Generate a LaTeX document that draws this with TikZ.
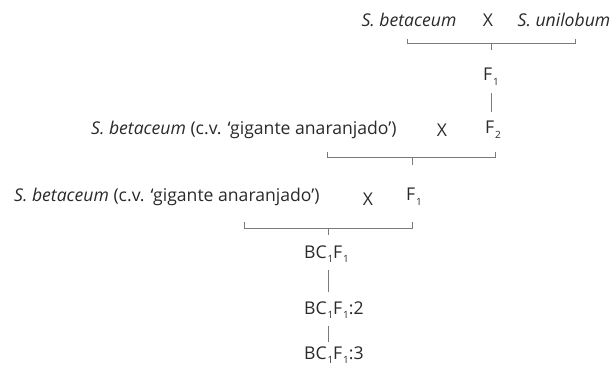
\documentclass[tikz,border=0pt]{standalone}
\usepackage{fontspec}
\setmainfont{Open Sans}
\usepackage{xcolor}
\usetikzlibrary{positioning, calc}
\definecolor{cText}{HTML}{2A2A2A}
\definecolor{cLine}{HTML}{7A7A7A}
\tikzset{
  cross/.style ={font=\fontsize{17.6}{20}\selectfont, text=cText,
                 inner sep=1pt},
  link/.style  ={draw=cLine, line width=0.7pt},
}
\newcommand{\sub}[1]{\kern0.8pt\raisebox{-0.5ex}{\fontsize{10}{10}\selectfont #1}}

\begin{document}
\begin{tikzpicture}[x=1pt, y=-1pt]
  \useasboundingbox (0,0) rectangle (612,367);

  % ============================================================
  % FIRST CROSS (top)
  % ============================================================
  \node[cross] (p1a) at (409,20) {\textit{S. betaceum}};
  \node[cross] (x1)  at (488,20) {X};
  \node[cross] (p1b) at (564,20) {\textit{S. unilobum}};
  \node[cross] (f1)  at (491,77) {F\sub{1}};

  \coordinate (b1l) at (407,43);
  \coordinate (b1r) at (575,43);
  \coordinate (b1m) at (491,43);
  \draw[link] ($(b1l)+(0,-4)$) -- (b1l) -- (b1r) -- ++(0,-4);
  \draw[link] (b1m) -- ++(0,7);

  \coordinate (v0t) at (491,93);
  \coordinate (v0b) at (491,112);
  \draw[link] (v0t) -- (v0b);

  % ============================================================
  % SECOND CROSS
  % ============================================================
  \node[cross, anchor=west] (p2a) at (90,130)
    {\textit{S. betaceum} (c.v. ‘gigante anaranjado’)};
  \node[cross] (x2)  at (442,130) {X};
  \node[cross] (f2)  at (493,130) {F\sub{2}};

  \coordinate (b2l) at (327,157);
  \coordinate (b2r) at (495,157);
  \coordinate (b2m) at (412,157);
  \draw[link] ($(b2l)+(0,-5)$) -- (b2l) -- (b2r) -- ++(0,-5);
  \draw[link] (b2m) -- ++(0,8);

  % ============================================================
  % BACKCROSS
  % ============================================================
  \node[cross, anchor=west] (p3a) at (13,197)
    {\textit{S. betaceum} (c.v. ‘gigante anaranjado’)};
  \node[cross] (x3)  at (368,199) {X};
  \node[cross] (f3)  at (414,197) {F\sub{1}};

  \coordinate (b3l) at (244,228);
  \coordinate (b3r) at (412,228);
  \coordinate (b3m) at (328,228);
  \draw[link] ($(b3l)+(0,-6)$) -- (b3l) -- (b3r) -- ++(0,-6);
  \draw[link] (b3m) -- ++(0,7);

  % --- backcross generations ---
  \node[cross, anchor=west] (bc1) at (303,254) {BC\sub{1}F\sub{1}};
  \node[cross, anchor=west] (bc2) at (303,310) {BC\sub{1}F\sub{1}:2};
  \node[cross, anchor=west] (bc3) at (303,355) {BC\sub{1}F\sub{1}:3};

  \coordinate (v1t) at (328,270);
  \coordinate (v1b) at (328,292);
  \coordinate (v2t) at (328,326);
  \coordinate (v2b) at (328,342);
  \draw[link] (v1t) -- (v1b);
  \draw[link] (v2t) -- (v2b);

\end{tikzpicture}
\end{document}
